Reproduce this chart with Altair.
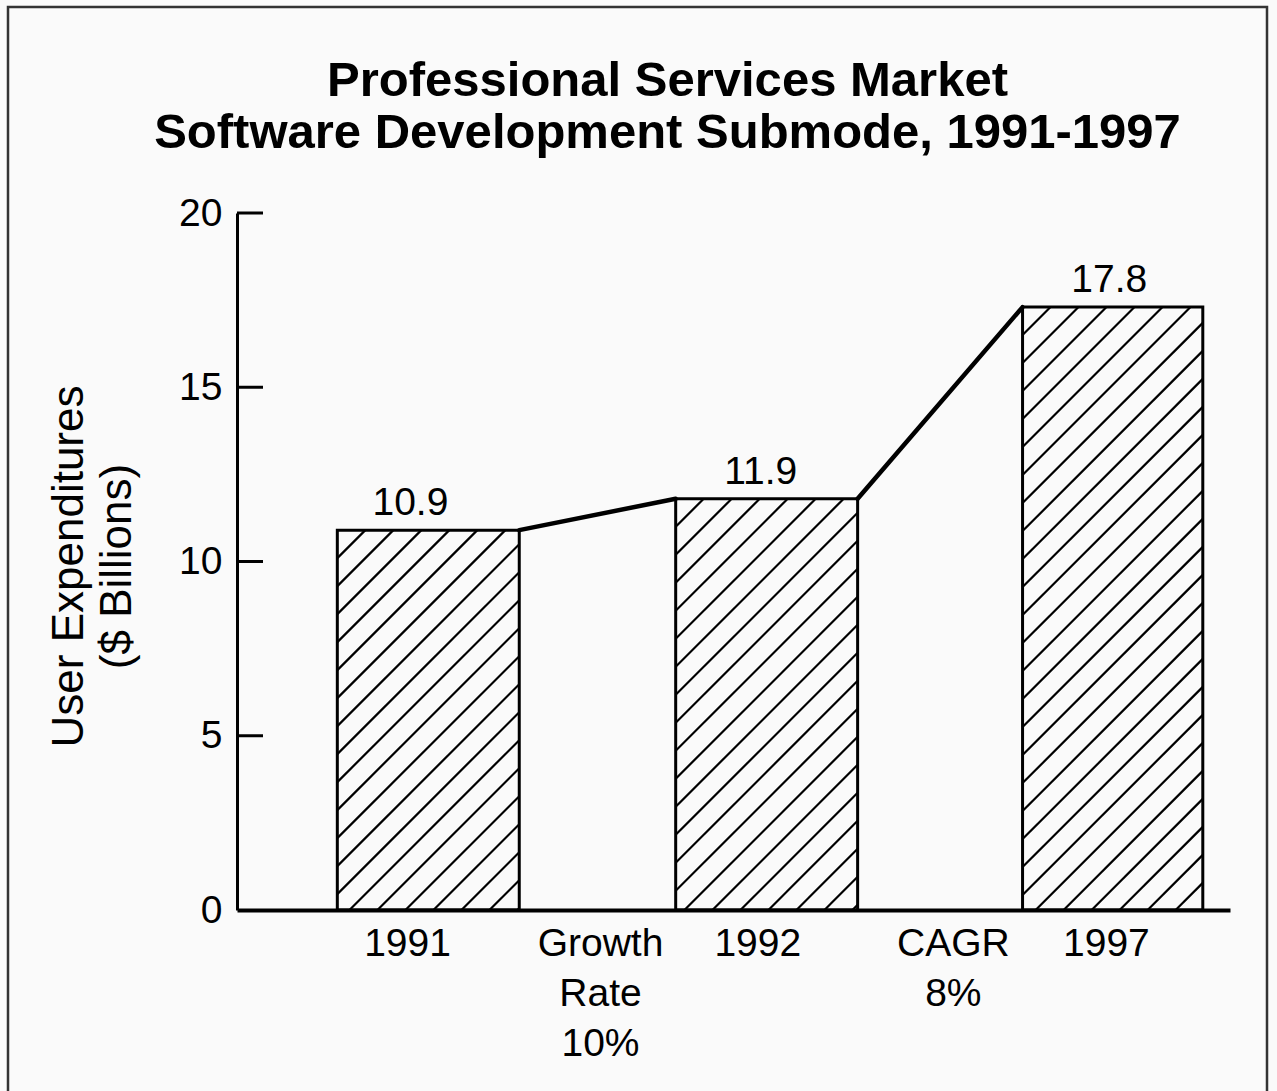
import altair as alt
import pandas as pd

# ---- data ----
years = ["1991", "1992", "1997"]
bar_tops = [10.9, 11.8, 17.3]          # drawn bar heights ($ billions)
value_labels = ["10.9", "11.9", "17.8"]  # printed values
bar_start = [0.59, 2.58, 4.62]         # bar left edges (x units)
bar_end = [1.66, 3.65, 5.68]           # bar right edges (x units)
value_label_x = [1.02, 3.08, 5.13]
x_label_pos = [1.0, 2.135, 3.06, 4.21, 5.11]
x_label_lines = [["1991"], ["Growth", "Rate", "10%"], ["1992"], ["CAGR", "8%"], ["1997"]]
y_ticks = [0, 5, 10, 15, 20]
title_lines = ["Professional Services Market", "Software Development Submode, 1991-1997"]
y_title = ["User Expenditures", "($ Billions)"]

# ---- layout ----
W, H = 993, 697
X_MAX, Y_MAX = 5.84, 20
PX_X = W / X_MAX
PX_Y = H / Y_MAX
FONT = "Liberation Sans"

bars = pd.DataFrame({"year": years, "x0": bar_start, "x1": bar_end, "top": bar_tops,
                     "label": value_labels, "lx": value_label_x})

# connectors between consecutive bar tops
conn = pd.DataFrame({
    "x": bar_end[:-1], "y": bar_tops[:-1],
    "x2": bar_start[1:], "y2": bar_tops[1:],
})

# hatch segments (45 degrees on screen) clipped to each bar
SP = 28.0
hatch = []
for x0, x1, top in zip(bar_start, bar_end, bar_tops):
    bw = (x1 - x0) * PX_X
    bh = top * PX_Y
    c = SP
    while c < bw + bh:
        if c <= bw:
            ue, ve = c, 0.0
        else:
            ue, ve = bw, c - bw
        if c <= bh:
            us, vs = 0.0, c
        else:
            us, vs = c - bh, bh
        hatch.append({"x": x0 + us / PX_X, "y": top - vs / PX_Y,
                      "x2": x0 + ue / PX_X, "y2": top - ve / PX_Y})
        c += SP
hatch = pd.DataFrame(hatch)

ticks = pd.DataFrame({"y": [t for t in y_ticks if t > 0]})
ticks["x"] = 0.0
ticks["x2"] = 26 / PX_X


def lit(lines):
    return "[" + ",".join("'" + s + "'" for s in lines) + "]"


expr = lit(x_label_lines[-1])
for i in range(len(x_label_pos) - 2, -1, -1):
    mid = (x_label_pos[i] + x_label_pos[i + 1]) / 2
    expr = f"datum.value < {mid:.3f} ? {lit(x_label_lines[i])} : ({expr})"

xs = alt.Scale(domain=[0, X_MAX], nice=False, zero=False)
ys = alt.Scale(domain=[0, Y_MAX], nice=False, zero=False)

x_axis = alt.Axis(values=x_label_pos, labelExpr=expr, ticks=False, grid=False, title=None,
                  domainColor="black", domainWidth=4, labelFont=FONT, labelFontSize=39,
                  labelColor="black", labelLineHeight=50, labelBaseline="top",
                  labelPadding=14, labelFlush=False, labelOverlap=False, labelBound=False)
y_axis = alt.Axis(values=y_ticks, ticks=False, grid=False, title=y_title,
                  domainColor="black", domainWidth=3, labelFont=FONT, labelFontSize=39,
                  labelColor="black", labelPadding=15, labelFlush=False,
                  titleFont=FONT, titleFontSize=44, titleFontWeight="normal",
                  titleColor="black", titleAngle=270, titleX=-155, titleY=353,
                  titleAlign="center", titleBaseline="alphabetic", titleLineHeight=48)


def X(f):
    return alt.X(f, type="quantitative", scale=xs, axis=x_axis)


def Y(f):
    return alt.Y(f, type="quantitative", scale=ys, axis=y_axis)


frame = alt.Chart(pd.DataFrame({"a": [0]})).mark_rect(
    fillOpacity=0, stroke="#333333", strokeWidth=2.5
).encode(x=alt.value(-229), x2=alt.value(1030), y=alt.value(-206), y2=alt.value(890))

hatch_layer = alt.Chart(hatch).mark_rule(color="black", strokeWidth=2.2).encode(
    x=X("x"), x2="x2", y=Y("y"), y2="y2")

bar_layer = alt.Chart(bars).mark_rect(fillOpacity=0, stroke="black", strokeWidth=3).encode(
    x=X("x0"), x2="x1", y=Y("top"), y2=alt.datum(0))

conn_layer = alt.Chart(conn).mark_rule(color="black", strokeWidth=4.5, strokeCap="round").encode(
    x=X("x"), x2="x2", y=Y("y"), y2="y2")

tick_layer = alt.Chart(ticks).mark_rule(color="black", strokeWidth=3).encode(
    x=X("x"), x2="x2", y=Y("y"))

text_layer = alt.Chart(bars).mark_text(font=FONT, fontSize=39, color="black",
                                       baseline="alphabetic", align="center", dy=-15).encode(
    x=X("lx"), y=Y("top"), text="label")

chart = alt.layer(frame, hatch_layer, bar_layer, conn_layer, tick_layer, text_layer).properties(
    width=W, height=H,
    title=alt.TitleParams(text=title_lines, font=FONT, fontSize=49, fontWeight="bold",
                          color="black", anchor="middle", frame="group", dx=-66, dy=156,
                          lineHeight=52),
    autosize=alt.AutoSizeParams(type="none"),
    padding={"left": 237, "top": 213, "right": 47, "bottom": 181},
    background="#fafafa",
).configure_view(stroke=None)

chart.save("out.html", embed_options={"renderer": "svg", "actions": False})
